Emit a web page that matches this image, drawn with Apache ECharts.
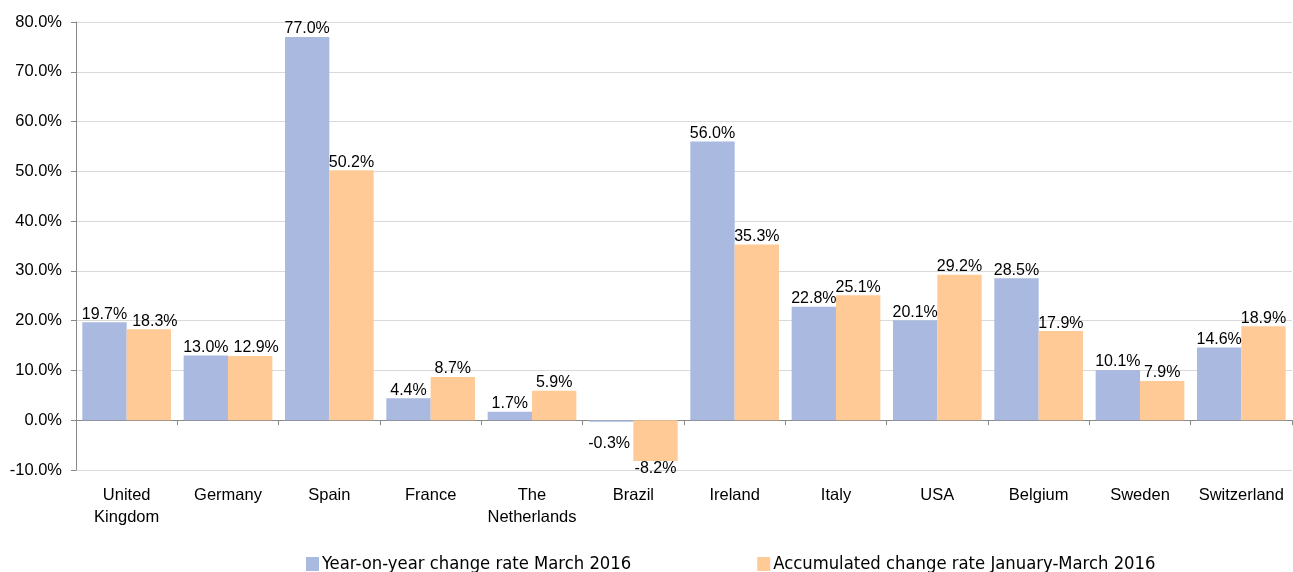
<!DOCTYPE html>
<html><head><meta charset="utf-8">
<script src="https://cdn.jsdelivr.net/npm/echarts@6/dist/echarts.min.js"></script>
<style>html,body{margin:0;padding:0;background:#fff}#c{width:1293px;height:572px}</style>
</head><body><div id="c"></div>
<script>
const categories = ['United\nKingdom','Germany','Spain','France','The\nNetherlands','Brazil','Ireland','Italy','USA','Belgium','Sweden','Switzerland'];
const seriesNames = ['Year-on-year change rate March 2016','Accumulated change rate January-March 2016'];
const yoy = [19.7, 13.0, 77.0, 4.4, 1.7, -0.3, 56.0, 22.8, 20.1, 28.5, 10.1, 14.6];
const accum = [18.3, 12.9, 50.2, 8.7, 5.9, -8.2, 35.3, 25.1, 29.2, 17.9, 7.9, 18.9];
const yTicks = {min: -10, max: 80, interval: 10};

const FONT = "'Liberation Sans', Arial, sans-serif";
const chart = echarts.init(document.getElementById('c'), null, {renderer: 'canvas'});
const labelStyle = {show: true, position: 'outside', distance: 0, color: '#000', fontSize: 16, fontFamily: FONT, formatter: p => p.value.toFixed(1) + '%'};
// nudge labels that would collide with neighbours (as in the original layout)
const accumItems = accum.map((v, i) => (i === 0 || i === 1) ? {value: v, label: {offset: [6, 0]}} : v);
const yoyItems = yoy.map((v, i) => (i === 5) ? {value: v, label: {offset: [-2, 14]}} : v);
chart.setOption({
  animation: false,
  grid: {left: 76, right: 1, top: 22, bottom: 102, containLabel: false},
  legend: {
    left: 306, top: 555, padding: 0, itemWidth: 13, itemHeight: 14, itemGap: 126, icon: 'rect',
    textStyle: {fontSize: 18.3, color: '#000', fontFamily: "'Liberation Sans Narrow', 'DejaVu Sans Condensed', sans-serif", padding: [2,0,0,-2]},
    data: seriesNames
  },
  xAxis: [{
    type: 'category', data: categories, position: 'bottom',
    axisLine: {onZero: true, lineStyle: {color: '#888', width: 1}},
    axisTick: {show: true, length: 5, lineStyle: {color: '#888'}},
    axisLabel: {show: false}
  }, {
    type: 'category', data: categories, position: 'bottom',
    axisLine: {show: false, onZero: false}, axisTick: {show: false},
    axisLabel: {show: true, margin: 14, color: '#000', fontSize: 16.5, lineHeight: 22, fontFamily: FONT, interval: 0}
  }],
  yAxis: {
    type: 'value', min: yTicks.min, max: yTicks.max, interval: yTicks.interval,
    axisLine: {show: true, lineStyle: {color: '#888'}},
    axisTick: {show: true, length: 5, lineStyle: {color: '#888'}},
    splitLine: {lineStyle: {color: '#d9d9d9', width: 1}},
    axisLabel: {margin: 14, color: '#000', fontSize: 16.5, fontFamily: FONT, formatter: v => v.toFixed(1) + '%'}
  },
  series: [{
    name: seriesNames[0], type: 'bar', data: yoyItems, xAxisIndex: 0,
    barGap: '0%', barCategoryGap: '12.5%',
    itemStyle: {color: '#AAB9DF'}, label: labelStyle
  }, {
    name: seriesNames[1], type: 'bar', data: accumItems, xAxisIndex: 0,
    barGap: '0%', barCategoryGap: '12.5%',
    itemStyle: {color: '#FFCA96'}, label: labelStyle
  }]
});
</script></body></html>
